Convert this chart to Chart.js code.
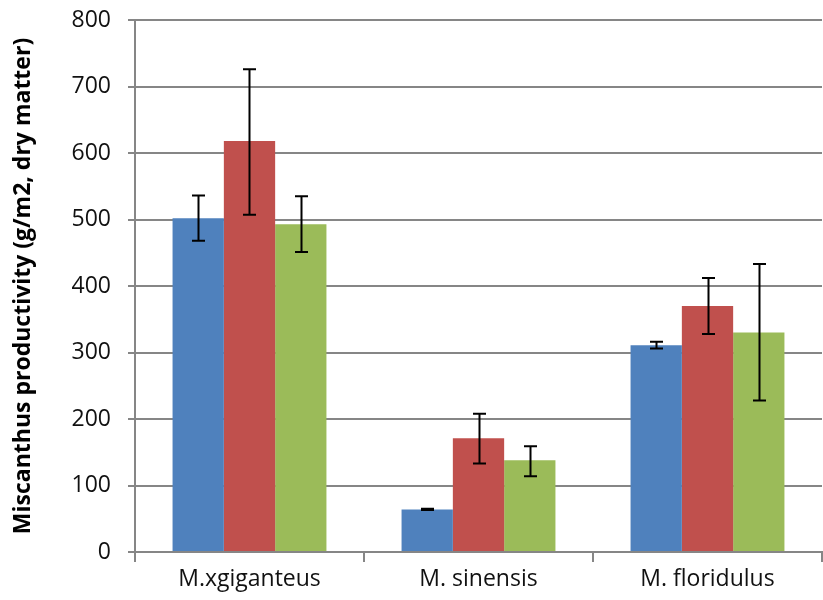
<!DOCTYPE html>
<html><head><meta charset="utf-8">
<script src="https://cdn.jsdelivr.net/npm/chart.js@4/dist/chart.umd.min.js"></script>
<style>html,body{margin:0;padding:0;background:#fff}#wrap{width:823px;height:600px}</style>
</head><body><div id="wrap"><canvas id="c" width="823" height="600"></canvas></div>
<script>
const categories = ['M.xgiganteus', 'M. sinensis', 'M. floridulus'];
const seriesBlue = [502, 64, 311];
const seriesRed = [618, 171, 370];
const seriesGreen = [493, 138, 330];
const errLowBlue = [468, 63, 306];
const errHighBlue = [536, 65, 316];
const errLowRed = [507, 133, 328];
const errHighRed = [726, 208, 412];
const errLowGreen = [451, 114, 228];
const errHighGreen = [535, 159, 433];
const yTicks = [0, 100, 200, 300, 400, 500, 600, 700, 800];
const yTitle = 'Miscanthus productivity (g/m2, dry matter)';

const errLows = [errLowBlue, errLowRed, errLowGreen];
const errHighs = [errHighBlue, errHighRed, errHighGreen];

const errorBars = {
  id: 'errorBars',
  afterDatasetsDraw(chart) {
    const ctx = chart.ctx, y = chart.scales.y;
    ctx.save();
    ctx.strokeStyle = '#000';
    chart.data.datasets.forEach((ds, i) => {
      const meta = chart.getDatasetMeta(i);
      meta.data.forEach((bar, j) => {
        const x = Math.round(bar.x) + 0.5;
        const yl = y.getPixelForValue(errLows[i][j]);
        const yh = y.getPixelForValue(errHighs[i][j]);
        ctx.lineWidth = 2;
        ctx.beginPath();
        ctx.moveTo(x, yl); ctx.lineTo(x, yh);
        ctx.moveTo(x - 6.5, yl); ctx.lineTo(x + 6.5, yl);
        ctx.moveTo(x - 6.5, yh); ctx.lineTo(x + 6.5, yh);
        ctx.stroke();
      });
    });
    ctx.restore();
  }
};

const fontFam = "'Open Sans', 'Noto Sans', sans-serif";
new Chart(document.getElementById('c'), {
  type: 'bar',
  data: {
    labels: categories,
    datasets: [
      { data: seriesBlue, backgroundColor: '#4F81BD' },
      { data: seriesRed, backgroundColor: '#C0504D' },
      { data: seriesGreen, backgroundColor: '#9BBB59' }
    ]
  },
  options: {
    responsive: false,
    animation: false,
    devicePixelRatio: 1,
    layout: { padding: { top: 20, right: 1, bottom: 0, left: 0 } },
    plugins: { legend: { display: false }, tooltip: { enabled: false } },
    datasets: { bar: { categoryPercentage: 0.672, barPercentage: 1.0 } },
    scales: {
      x: {
        grid: { offset: true, drawOnChartArea: false, color: '#868686', lineWidth: 2, tickLength: 10 },
        border: { color: '#868686', width: 2 },
        ticks: { color: '#111', font: { family: fontFam, size: 23 }, padding: 4 },
        afterFit(s) { s.height = 48; s.paddingLeft = 0; s.paddingRight = 0; }
      },
      y: {
        min: 0, max: 800,
        afterBuildTicks(s) { s.ticks = yTicks.map(v => ({ value: v })); },
        grid: { color: '#868686', lineWidth: 2, tickLength: 7 },
        border: { color: '#868686', width: 2 },
        ticks: { color: '#111', font: { family: fontFam, size: 23 }, padding: 17 },
        title: { display: true, text: yTitle, color: '#000', font: { family: fontFam, size: 23, weight: 'bold' }, padding: { top: 10, bottom: 0 } },
        afterFit(s) { s.width = 135; s.paddingTop = 0; s.paddingBottom = 0; }
      }
    }
  },
  plugins: [errorBars]
});
</script></body></html>
